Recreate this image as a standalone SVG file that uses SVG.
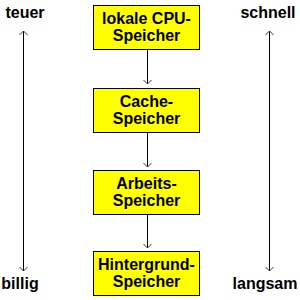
<svg xmlns="http://www.w3.org/2000/svg" width="300" height="300" viewBox="0 0 300 300">
<defs>
<style>
.box{fill:#ffff00;stroke:#000;stroke-width:1}
.t{font-family:"Liberation Sans",Arial,sans-serif;font-weight:bold;font-size:16px;fill:#000;text-anchor:middle}
.c{stroke:#000;stroke-width:1;fill:none}
</style>
<marker id="ah" markerWidth="10" markerHeight="10" refX="5" refY="5" orient="auto-start-reverse" markerUnits="userSpaceOnUse">
<path d="M1,1 L5,5 L1,9" fill="none" stroke="#333" stroke-width="1"/>
</marker>
</defs>
<rect width="300" height="300" fill="#fff"/>
<g id="connectors">
<line class="c" x1="147.5" y1="49" x2="147.5" y2="84" marker-end="url(#ah)"/>
<line class="c" x1="147.5" y1="132" x2="147.5" y2="167" marker-end="url(#ah)"/>
<line class="c" x1="147.5" y1="215" x2="147.5" y2="248" marker-end="url(#ah)"/>
<line class="c" x1="23.5" y1="31" x2="23.5" y2="271" marker-start="url(#ah)" marker-end="url(#ah)"/>
<line class="c" x1="269.5" y1="31" x2="269.5" y2="271" marker-start="url(#ah)" marker-end="url(#ah)"/>
</g>
<g id="n1"><rect class="box" x="93.5" y="5.5" width="106" height="44"/><text class="t" x="146.5" y="24">lokale CPU-</text><text class="t" x="146.5" y="41">Speicher</text></g>
<g id="n2"><rect class="box" x="93.5" y="88.5" width="106" height="44"/><text class="t" x="146.5" y="107">Cache-</text><text class="t" x="146.5" y="124">Speicher</text></g>
<g id="n3"><rect class="box" x="93.5" y="170.5" width="106" height="44"/><text class="t" x="146.5" y="189">Arbeits-</text><text class="t" x="146.5" y="206">Speicher</text></g>
<g id="n4"><rect class="box" x="93.5" y="251.5" width="106" height="44"/><text class="t" x="146.5" y="270">Hintergrund-</text><text class="t" x="146.5" y="287">Speicher</text></g>
<g id="l1"><text class="t" x="25" y="18">teuer</text></g>
<g id="l2"><text class="t" x="20" y="289">billig</text></g>
<g id="l3"><text class="t" x="268" y="18">schnell</text></g>
<g id="l4"><text class="t" x="265" y="289">langsam</text></g>
</svg>
